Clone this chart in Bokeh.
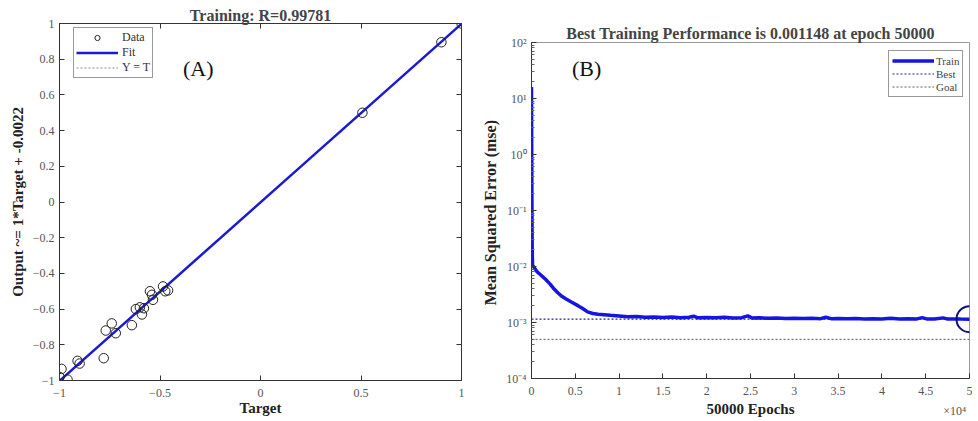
from bokeh.plotting import figure
from bokeh.layouts import row, column
from bokeh.models import (FixedTicker, Label, Legend, LegendItem, LinearAxis,
                          CustomJSTickFormatter, Range1d, Spacer)
from bokeh.core.properties import value
from bokeh.embed import file_html
from bokeh.resources import INLINE

# ---------------- data: panel A (regression) ----------------
target = [-1.0, -0.99, -0.96, -0.91, -0.90, -0.78, -0.77, -0.74, -0.72, -0.64,
          -0.62, -0.60, -0.59, -0.58, -0.55, -0.535, -0.54, -0.485, -0.474, -0.46,
          0.507, 0.90, 1.0]
output = [-0.98, -0.935, -0.995, -0.89, -0.905, -0.875, -0.72, -0.68, -0.735, -0.69,
          -0.60, -0.59, -0.63, -0.595, -0.50, -0.548, -0.52, -0.473, -0.50, -0.495,
          0.50, 0.895, 1.0]
fit_slope = 1.0
fit_intercept = -0.0022
r_value = "0.99781"
a_xticks = [-1, -0.5, 0, 0.5, 1]
a_yticks = [-1, -0.8, -0.6, -0.4, -0.2, 0, 0.2, 0.4, 0.6, 0.8, 1]

# ---------------- data: panel B (training performance) ----------------
train_epochs = [0, 15, 40, 80, 120, 300, 650, 1000, 1600, 2100, 2500, 3000, 3500, 4000,
                4600, 5300, 5800, 6400, 7000, 7600, 8300, 9000, 10000, 11000, 12000,
                13000, 14000, 15000, 16000, 17000, 18000, 18500, 19000, 20000, 21000,
                22000, 23000, 24000, 24700, 25200, 26000, 27000, 28000, 29000, 30000,
                31000, 32000, 33000, 33600, 34200, 35000, 36000, 37000, 38000, 39000,
                40000, 41000, 42000, 43000, 44000, 44600, 45200, 46000, 47000, 47500,
                48000, 49000, 50000]
train_mse = [16.0, 3.0, 0.25, 0.02, 0.0105, 0.0096, 0.0080, 0.0072, 0.0059, 0.0049,
             0.0041, 0.0034, 0.0029, 0.0026, 0.0023, 0.0020, 0.0018, 0.00155, 0.00145,
             0.00141, 0.00138, 0.00135, 0.00131, 0.00127, 0.00128, 0.00124, 0.00126,
             0.00123, 0.00125, 0.00122, 0.00124, 0.00130, 0.00121, 0.00123, 0.00121,
             0.00124, 0.00120, 0.00122, 0.00131, 0.00120, 0.00121, 0.00119, 0.00120,
             0.00118, 0.00119, 0.00118, 0.00119, 0.00117, 0.00124, 0.00117, 0.00118,
             0.00117, 0.00118, 0.00116, 0.00117, 0.00116, 0.00119, 0.00116, 0.00117,
             0.00116, 0.00122, 0.00115, 0.00116, 0.00121, 0.00115, 0.00116, 0.00115,
             0.001148]
best_perf = 0.001148
best_epoch = 50000
goal_perf = 0.0005
b_xticks = [0, 5000, 10000, 15000, 20000, 25000, 30000, 35000, 40000, 45000, 50000]
b_xlabels = ["0", "0.5", "1", "1.5", "2", "2.5", "3", "3.5", "4", "4.5", "5"]
b_yticks = [1e-4, 1e-3, 1e-2, 1e-1, 1e0, 1e1, 1e2]
b_xlabel = "50000 Epochs"
b_scale_note = "\u00d710\u2074"

SERIF = "Liberation Serif"
TICK_COLOR = "#555555"
H = 420
B_SHIFT = 19
STRIP = 21


def style_axis(ax, show_labels=True):
    ax.major_tick_in = 5
    ax.major_tick_out = 0
    ax.minor_tick_in = 3
    ax.minor_tick_out = 0
    ax.axis_line_color = "#333333"
    ax.major_tick_line_color = "#333333"
    ax.minor_tick_line_color = "#666666"
    ax.major_label_text_font = SERIF
    ax.major_label_text_font_size = "12px"
    ax.major_label_text_color = TICK_COLOR
    ax.axis_label_text_font = SERIF
    ax.axis_label_text_font_style = "bold"
    ax.axis_label_text_font_size = "15px"
    ax.axis_label_text_color = "#222222"
    if not show_labels:
        ax.formatter = CustomJSTickFormatter(code="return '';")
        ax.major_label_standoff = 0


# ---------------- panel A ----------------
pA = figure(width=472, height=H, x_range=Range1d(-1, 1), y_range=Range1d(-1, 1),
            output_backend="svg", toolbar_location=None,
            min_border_left=59, min_border_right=11, min_border_top=23,
            min_border_bottom=40)
pA.title.text = "Training: R=" + r_value
pA.title.align = "center"
pA.title.text_font = SERIF
pA.title.text_font_size = "16px"
pA.title.text_font_style = "bold"
pA.title.standoff = 0
pA.title.offset = 0
pA.grid.visible = False
pA.outline_line_color = "#333333"

pA.xaxis.ticker = FixedTicker(ticks=a_xticks)
pA.yaxis.ticker = FixedTicker(ticks=a_yticks)
pA.xaxis.axis_label = "Target"
pA.yaxis.axis_label = "Output ~= 1*Target + -0.0022"
for ax in pA.xaxis + pA.yaxis:
    style_axis(ax)
    ax.minor_tick_in = 0
pA.xaxis.major_label_standoff = 8
pA.xaxis.axis_label_standoff = 0
pA.yaxis.major_label_standoff = 5
pA.yaxis.axis_label_standoff = 4

ax_top = LinearAxis(ticker=FixedTicker(ticks=a_xticks))
ax_right = LinearAxis(ticker=FixedTicker(ticks=a_yticks))
for ax in (ax_top, ax_right):
    style_axis(ax, show_labels=False)
    ax.minor_tick_in = 0
pA.add_layout(ax_top, "above")
pA.add_layout(ax_right, "right")

line_x = [a_xticks[0], a_xticks[-1]]
yt = pA.line(x=line_x, y=line_x, line_color="#888888", line_dash="2 2", line_width=1)
fit_y = [fit_slope * v + fit_intercept for v in line_x]
fit = pA.line(x=line_x, y=fit_y, line_color="#1a1ad0", line_width=2.5)
dat = pA.scatter(x=target, y=output, marker="circle", size=9.5, fill_color=None,
                 line_color="#222222", line_width=1)

legA = Legend(items=[LegendItem(label="Data", renderers=[dat]),
                     LegendItem(label="Fit", renderers=[fit]),
                     LegendItem(label="Y = T", renderers=[yt])],
              location=(14, 302))
legA.label_text_font = SERIF
legA.label_text_font_size = "12px"
legA.label_text_color = "#333333"
legA.glyph_width = 42
legA.glyph_height = 13
legA.label_height = 13
legA.spacing = 0
legA.padding = 2
legA.margin = 0
legA.label_standoff = 4
legA.border_line_color = "#333333"
pA.add_layout(legA)

pA.add_layout(Label(x=-0.31, y=0.75, text="(A)", text_font=SERIF, text_font_size="22px",
                    text_align="center", text_baseline="middle", text_color="#111111"))

# ---------------- panel B ----------------
pB = figure(width=500, height=H - B_SHIFT - STRIP, x_range=Range1d(0, 50000),
            y_range=Range1d(1e-4, 1e2),
            y_axis_type="log", output_backend="svg", toolbar_location=None,
            min_border_left=59, min_border_right=3, min_border_top=23,
            min_border_bottom=STRIP)
pB.title.text = "Best Training Performance is %s at epoch %d" % (best_perf, best_epoch)
pB.title.align = "center"
pB.title.text_font = SERIF
pB.title.text_font_size = "16px"
pB.title.text_font_style = "bold"
pB.title.standoff = 1
pB.title.offset = 0
pB.grid.visible = False
pB.outline_line_color = "#999999"

pB.xaxis.ticker = FixedTicker(ticks=b_xticks)
pB.xaxis.major_label_overrides = dict(zip(b_xticks, b_xlabels))
minor_log = []
for dec in b_yticks[:-1]:
    for m in range(2, 10):
        minor_log.append(dec * m)
pB.yaxis.ticker = FixedTicker(ticks=b_yticks, minor_ticks=minor_log)
pB.yaxis.formatter = CustomJSTickFormatter(code="""
const sup = {'-':'\u207b','0':'\u2070','1':'\u00b9','2':'\u00b2','3':'\u00b3','4':'\u2074',
             '5':'\u2075','6':'\u2076','7':'\u2077','8':'\u2078','9':'\u2079'};
const e = String(Math.round(Math.log10(tick)));
return '10' + e.split('').map(c => sup[c]).join('');
""")
pB.yaxis.axis_label = "Mean Squared Error  (mse)"
for ax in pB.xaxis + pB.yaxis:
    style_axis(ax)
pB.yaxis.axis_label_text_font_size = "16px"
pB.xaxis.minor_tick_in = 0
pB.xaxis.major_label_standoff = 8
pB.yaxis.major_label_standoff = 5
pB.yaxis.axis_label_standoff = 4

ext = [train_epochs[0], train_epochs[-1]]
goal = pB.line(x=ext, y=[goal_perf, goal_perf], line_color="#555555",
               line_dash="2 2", line_width=1)
best = pB.line(x=ext, y=[best_perf, best_perf], line_color="#20208a",
               line_dash="2 2", line_width=1.2)
train = pB.line(x=train_epochs, y=train_mse, line_color="#1515e0", line_width=3.5)
pB.scatter(x=[best_epoch], y=[best_perf], marker="circle", size=26, fill_color=None,
           line_color="#10107a", line_width=2)

legB = Legend(items=[LegendItem(label="Train", renderers=[train]),
                     LegendItem(label="Best", renderers=[best]),
                     LegendItem(label="Goal", renderers=[goal])],
              location=(357, 281))
legB.label_text_font = SERIF
legB.label_text_font_size = "11px"
legB.label_text_color = "#444444"
legB.glyph_width = 42
legB.glyph_height = 13
legB.label_height = 13
legB.spacing = 0
legB.padding = 3
legB.margin = 0
legB.label_standoff = 2
legB.border_line_color = "#333333"
pB.add_layout(legB)

pB.add_layout(Label(x=6300, y=35, text="(B)", text_font=SERIF, text_font_size="22px",
                    text_align="center", text_baseline="middle", text_color="#111111"))

# strip under panel B carrying the x-axis title and the x10^4 scale note
strip = figure(width=500, height=STRIP, x_range=pB.x_range, y_range=Range1d(0, 1),
               output_backend="svg", toolbar_location=None,
               x_axis_location=None, y_axis_location=None,
               min_border_left=59, min_border_right=3, min_border_top=0,
               min_border_bottom=0)
strip.grid.visible = False
strip.outline_line_color = None
strip.text(x=[sum(ext) / 2], y=[0.55], text=[b_xlabel], text_font=value(SERIF),
           text_font_size="15px", text_font_style="bold", text_color="#222222",
           text_align="center", text_baseline="middle")
strip.text(x=[47000], y=[0.45], text=[b_scale_note], text_font=value(SERIF),
           text_font_size="12px", text_color=TICK_COLOR,
           text_align="left", text_baseline="middle")

layout = row(pA, column(Spacer(height=B_SHIFT, width=500), pB, strip, spacing=0),
             spacing=0)
open("out.html", "w").write(file_html(layout, INLINE))
